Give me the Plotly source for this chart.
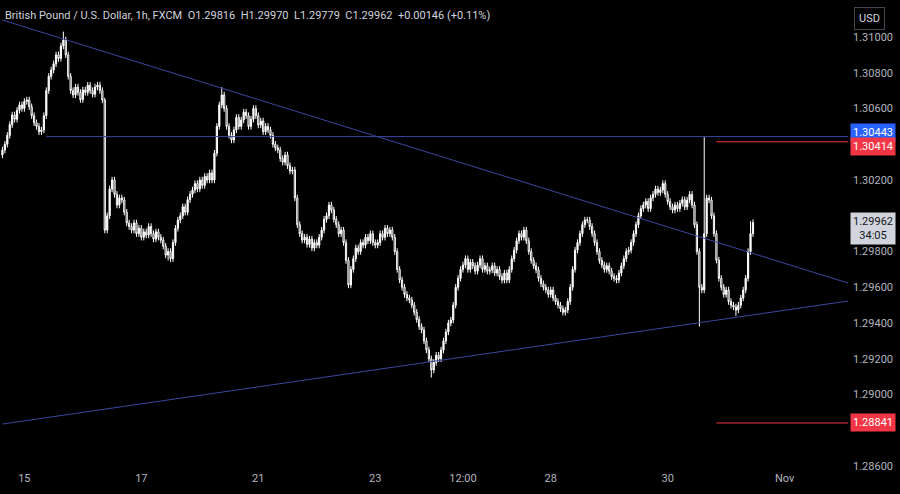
import plotly.graph_objects as go

# closes in units of 0.00001 above 1.29000
closes_u = [
1368,1400,1450,1510,1564,1540,1590,1620,1600,1640,
1648,1610,1560,1520,1500,1470,1480,1560,1700,1780,
1815,1850,1900,1880,1950,1983,1900,1780,1700,1676,
1720,1690,1650,1704,1690,1730,1700,1680,1720,1731,
1700,1648,920,1000,1150,1200,1120,1060,1100,1088,
1020,960,940,920,960,900,930,880,910,892,
940,900,870,910,880,864,830,780,800,760,
850,930,976,1000,1050,1020,1090,1120,1144,1180,
1150,1200,1170,1220,1200,1240,1200,1350,1500,1620,
1676,1600,1500,1450,1424,1480,1550,1500,1536,1580,
1560,1500,1540,1600,1560,1508,1530,1470,1500,1480,
1450,1400,1380,1368,1320,1300,1340,1280,1250,1256,
1100,950,900,864,880,840,870,820,850,836,
880,920,980,1000,1060,1032,980,950,900,920,
850,750,613,700,760,820,800,850,836,880,
860,900,850,836,850,900,880,930,900,920,
880,800,700,641,600,560,540,529,500,460,
420,380,361,300,250,200,137,180,220,200,
249,300,350,400,417,500,600,650,700,725,
760,700,740,720,690,725,760,700,720,690,
697,720,680,700,660,640,680,641,700,760,
808,860,900,880,920,860,800,750,720,697,
650,620,600,585,560,585,540,520,500,480,
460,473,520,600,700,808,850,900,950,976,
976,940,900,850,800,750,725,700,720,690,
660,650,641,680,720,760,800,808,850,900,
950,1000,1040,1060,1080,1040,1100,1120,1150,1130,
1144,1180,1120,1080,1050,1032,1060,1040,1070,1090,
1050,1088,1120,1060,950,800,600,585,900,1100,
1088,1000,900,752,650,600,560,585,520,500,
490,473,500,540,585,650,800,900,962,
]
first_open_u = 1340
wick_u = 18
spike_high_u = {25: 2030, 42: 1660, 90: 1720, 288: 1440, 307: 970}
spike_low_u = {68: 750, 176: 95, 286: 380, 301: 440}

tick_idx = [9, 57, 105, 153, 189, 225, 273, 321]
tick_txt = ["15", "17", "21", "23", "12:00", "28", "30", "Nov"]
y_ticks = [1.286, 1.290, 1.292, 1.294, 1.296, 1.298, 1.302, 1.306, 1.308, 1.310]

res_level = 1.30443
red_levels = [1.30414, 1.28841]
last_price = 1.29962
down_line = [(0, 1.31095), (347, 1.29624)]
up_line = [(0, 1.28835), (347, 1.29523)]

B = 1.29
opens, highs, lows, closes = [], [], [], []
prev = first_open_u
for i, c in enumerate(closes_u):
    o = prev
    h = spike_high_u.get(i, max(o, c) + wick_u)
    l = spike_low_u.get(i, min(o, c) - wick_u)
    opens.append(B + o / 1e5); closes.append(B + c / 1e5)
    highs.append(B + h / 1e5); lows.append(B + l / 1e5)
    prev = c
x = list(range(len(closes)))

fig = go.Figure()
lc = "#3b46a0"
fig.add_trace(go.Scatter(x=[p[0] for p in down_line], y=[p[1] for p in down_line], mode="lines",
                         line=dict(color=lc, width=1), showlegend=False))
fig.add_trace(go.Scatter(x=[p[0] for p in up_line], y=[p[1] for p in up_line], mode="lines",
                         line=dict(color=lc, width=1), showlegend=False))
fig.add_trace(go.Scatter(x=[18, 347], y=[res_level, res_level], mode="lines",
                         line=dict(color=lc, width=1), showlegend=False))
for lv in red_levels:
    fig.add_trace(go.Scatter(x=[293, 347], y=[lv, lv], mode="lines",
                             line=dict(color="#f23645", width=1), showlegend=False))
fig.add_trace(go.Candlestick(x=x, open=opens, high=highs, low=lows, close=closes,
    increasing=dict(line=dict(color="#ffffff", width=1), fillcolor="#ffffff"),
    decreasing=dict(line=dict(color="#ffffff", width=1), fillcolor="#000000"),
    whiskerwidth=0, showlegend=False, hoverinfo="skip"))

fig.update_layout(
    width=900, height=494, paper_bgcolor="#000000", plot_bgcolor="#000000",
    margin=dict(l=0, r=52, t=0, b=24, autoexpand=False),
    font=dict(family="Roboto", color="#b2b5be", size=11),
    xaxis=dict(range=[-1, 347], tickvals=tick_idx, ticktext=tick_txt, showgrid=False,
               zeroline=False, rangeslider=dict(visible=False), showline=False, ticks=""),
    yaxis=dict(side="right", range=[1.28578, 1.31207], tickvals=y_ticks,
               ticktext=[f"{v:.5f}" for v in y_ticks], showgrid=False, zeroline=False, ticks="",
               ticklabelstandoff=4),
)

fig.add_annotation(xref="paper", yref="paper", x=0.004, y=0.985, xanchor="left", yanchor="top",
    text="British Pound / U.S. Dollar, 1h, FXCM  O1.29816  H1.29970  L1.29779  C1.29962  +0.00146 (+0.11%)",
    showarrow=False, font=dict(color="#d1d4dc", size=11))

def price_tag(y, text, bg, fg="#ffffff"):
    fig.add_annotation(xref="paper", yref="y", x=1.0, y=y, xanchor="left", yanchor="middle",
        text=text, showarrow=False, bgcolor=bg, font=dict(color=fg, size=11), borderpad=2, xshift=2)

price_tag(res_level + 0.00022, "1.30443", "#2962ff")
price_tag(red_levels[0] - 0.00024, "1.30414", "#f23645")
price_tag(red_levels[1], "1.28841", "#f23645")
price_tag(last_price - 0.00035, "1.29962<br>34:05", "#d1d4dc", "#131722")

fig.add_annotation(xref="paper", yref="paper", x=1.0, y=0.985, xanchor="left", yanchor="top",
    text="USD", showarrow=False, font=dict(color="#d1d4dc", size=11), bordercolor="#434651",
    borderwidth=1, borderpad=4, xshift=6)

fig.write_html("out.html", config={"displayModeBar": False},
               post_script="document.body.style.margin='0';document.body.style.background='#000';")
